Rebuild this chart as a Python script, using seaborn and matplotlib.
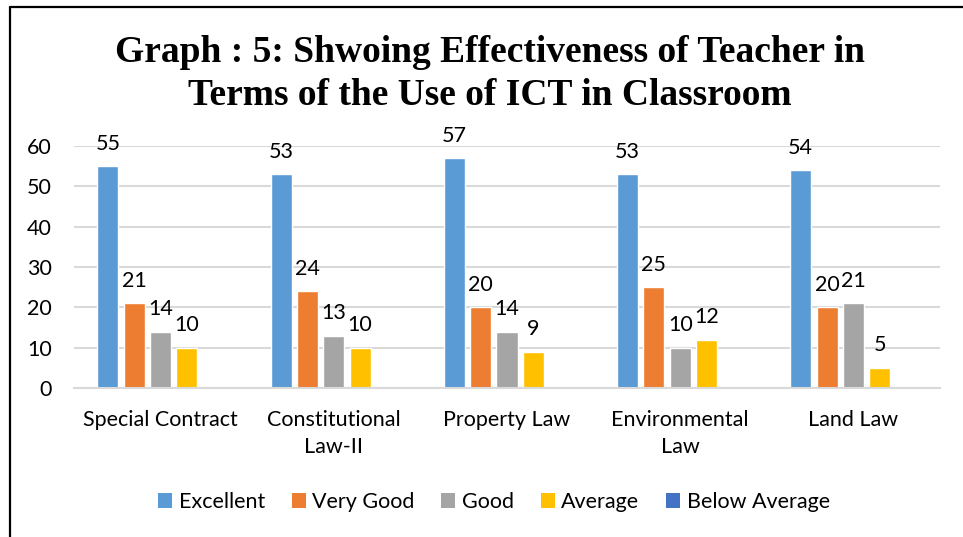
import matplotlib
matplotlib.use("Agg")
import matplotlib.pyplot as plt
import seaborn as sns
import pandas as pd
from matplotlib.lines import Line2D
from matplotlib.patches import Patch

categories = ["Special Contract", "Constitutional\nLaw-II", "Property Law", "Environmental\nLaw", "Land Law"]
series = ["Excellent", "Very Good", "Good", "Average", "Below Average"]
excellent = [55, 53, 57, 53, 54]
very_good = [21, 24, 20, 25, 20]
good = [14, 13, 14, 10, 21]
average = [10, 10, 9, 12, 5]
below_average = [0, 0, 0, 0, 0]
colors = ["#5B9BD5", "#ED7D31", "#A5A5A5", "#FFC000", "#4472C4"]

values = [excellent, very_good, good, average, below_average]
rows = []
for s, vals in zip(series, values):
    for c, v in zip(categories, vals):
        rows.append({"Category": c, "Series": s, "Value": v})
df = pd.DataFrame(rows)

sns.set_theme(style="white")
plt.rcParams["font.family"] = ["Lato", "DejaVu Sans"]
plt.rcParams["text.color"] = "black"

FS = 15.5

fig = plt.figure(figsize=(9.63, 5.37), dpi=100)
ax = fig.add_axes([74/963, 1-388/537, (940-74)/963, (388-146)/537])

sns.barplot(data=df, x="Category", y="Value", hue="Series", order=categories,
            hue_order=series, palette=colors, width=0.76, gap=0.2,
            saturation=1, ax=ax, legend=False)

ax.set_ylim(0, 60)
ax.set_yticks(range(0, 61, 10))
ax.set_xlim(-0.5, len(categories) - 0.5)
ax.set_xlabel("")
ax.set_ylabel("")
ax.grid(axis="y", color="#d9d9d9", linewidth=1.5)
ax.set_axisbelow(True)
for sp in ["left", "right", "top"]:
    ax.spines[sp].set_visible(False)
ax.spines["bottom"].set_color("#d9d9d9")
ax.spines["bottom"].set_linewidth(1.5)
ax.tick_params(axis="both", length=0, labelsize=FS, colors="black")
ax.tick_params(axis="x", pad=16)
ax.tick_params(axis="y", pad=16)
for lbl in ax.get_xticklabels():
    lbl.set_linespacing(1.45)

for cont in ax.containers:
    labels = [f"{int(b.get_height())}" if b.get_height() > 0 else "" for b in cont]
    ax.bar_label(cont, labels=labels, padding=9, fontsize=FS, color="black")

handles = [Patch(facecolor=c, edgecolor="none", label=s) for s, c in zip(series, colors)]
fig.legend(handles=handles, loc="center", bbox_to_anchor=(494/963, 1-502/537), ncol=5,
           frameon=False, fontsize=FS, handlelength=0.65, handleheight=0.65,
           handletextpad=0.3, columnspacing=1.25, labelcolor="black")

fig.text(490/963, 1-74/537,
         "Graph : 5: Shwoing Effectiveness of Teacher in\nTerms of the Use of ICT in Classroom",
         ha="center", va="center", fontsize=27, fontweight="bold", color="black",
         family="Liberation Serif", linespacing=1.3)

fig.add_artist(Line2D([10/963, 10/963], [0, 1-7/537], transform=fig.transFigure, color="black", linewidth=1.6))
fig.add_artist(Line2D([10/963, 1], [1-7/537, 1-7/537], transform=fig.transFigure, color="black", linewidth=1.6))

fig.savefig("out.png", dpi=100)
